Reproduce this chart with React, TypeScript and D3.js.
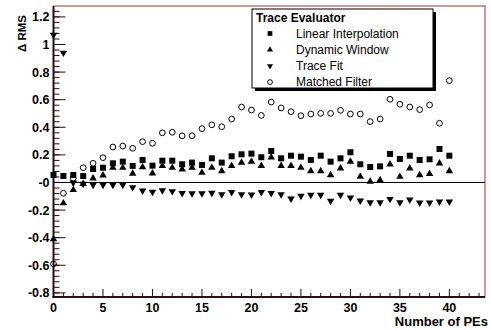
import React, { useRef, useEffect } from 'react'
import * as d3 from 'd3'

// number of photoelectrons (x)
const pes = [0, 1, 2, 3, 4, 5, 6, 7, 8, 9, 10, 11, 12, 13, 14, 15, 16, 17, 18, 19, 20,
  21, 22, 23, 24, 25, 26, 27, 28, 29, 30, 31, 32, 33, 34, 35, 36, 37, 38, 39, 40]

const linearInterp = [0.054, 0.047, 0.054, 0.047, 0.098, 0.107, 0.139, 0.151, 0.12, 0.163, 0.122,
  0.158, 0.158, 0.132, 0.144, 0.127, 0.175, 0.144, 0.19, 0.204, 0.209,
  0.183, 0.228, 0.175, 0.194, 0.187, 0.163, 0.194, 0.151, 0.175, 0.219,
  0.132, 0.112, 0.117, 0.207, 0.17, 0.194, 0.163, 0.168, 0.243, 0.194]

const dynamicWindow = [-0.41, -0.15, -0.054, -0.01, 0.03, 0.052, 0.107, 0.107, 0.064, 0.112, 0.067,
  0.12, 0.107, 0.096, 0.107, 0.071, 0.107, 0.083, 0.12, 0.144, 0.151,
  0.12, 0.183, 0.12, 0.12, 0.107, 0.083, 0.083, 0.054, 0.103, 0.151,
  0.042, 0.006, 0.018, 0.132, 0.042, 0.103, 0.054, 0.062, 0.139, 0.083]

const traceFit = [1.07, 0.94, -0.002, -0.01, -0.018, -0.018, -0.018, -0.018, -0.035, -0.06, -0.069,
  -0.057, -0.064, -0.078, -0.08, -0.08, -0.076, -0.086, -0.071, -0.086, -0.089,
  -0.071, -0.078, -0.086, -0.117, -0.098, -0.09, -0.09, -0.134, -0.09, -0.11,
  -0.132, -0.144, -0.144, -0.12, -0.144, -0.125, -0.146, -0.146, -0.139, -0.139]

const matchedFilter = [-0.59, -0.078, 0.03, 0.107, 0.139, 0.18, 0.257, 0.264, 0.248, 0.296, 0.284,
  0.36, 0.364, 0.338, 0.339, 0.39, 0.418, 0.404, 0.46, 0.547, 0.525,
  0.486, 0.583, 0.54, 0.513, 0.484, 0.496, 0.501, 0.501, 0.523, 0.496,
  0.496, 0.441, 0.46, 0.603, 0.567, 0.547, 0.528, 0.562, 0.429, 0.738]

const seriesNames = ['Linear Interpolation', 'Dynamic Window', 'Trace Fit', 'Matched Filter']
const yTickLabels = ['-0.8', '-0.6', '-0.4', '-0.2', '-0', '0.2', '0.4', '0.6', '0.8', '1', '1.2']
const xTickLabels = ['0', '5', '10', '15', '20', '25', '30', '35', '40']

const font = '"Liberation Sans", Arial, Helvetica, sans-serif'

export default function App() {
  const ref = useRef<SVGSVGElement>(null)

  useEffect(() => {
    const svg = d3.select(ref.current)
    svg.selectAll('*').remove()

    const x = d3.scaleLinear().domain([0, 43.6]).range([53.5, 485])
    const y = d3.scaleLinear().domain([-0.83, 1.279]).range([297, 6])
    const [x0, x1] = x.range()
    const [yb, yt] = y.range()

    // frame
    svg.append('rect')
      .attr('x', x0).attr('y', yt)
      .attr('width', x1 - x0).attr('height', yb - yt)
      .attr('fill', 'white').attr('stroke', '#a83232').attr('stroke-width', 1)

    const axisColor = '#2b0d0d'

    // y axis ticks
    const yMajor = yTickLabels.map(Number)
    const yMinor = d3.range(-40, 64).map((i) => i * 0.02).filter((v, i) => i % 2 === 0 && v <= 1.279)
    const gy = svg.append('g')
    yMinor.forEach((v) => {
      gy.append('line').attr('x1', x0).attr('x2', x0 + 6)
        .attr('y1', y(v)).attr('y2', y(v)).attr('stroke', axisColor)
    })
    yMajor.forEach((v, i) => {
      gy.append('line').attr('x1', x0).attr('x2', x0 + 12)
        .attr('y1', y(v)).attr('y2', y(v)).attr('stroke', axisColor)
      gy.append('text').attr('x', x0 - 4).attr('y', y(v) + 4.5)
        .attr('text-anchor', 'end').attr('font-family', font)
        .attr('font-weight', 'bold').attr('font-size', 12.5)
        .text(yTickLabels[i])
    })

    // x axis ticks
    const gx = svg.append('g')
    d3.range(0, 44).forEach((v) => {
      const major = v % 5 === 0
      gx.append('line').attr('x1', x(v)).attr('x2', x(v))
        .attr('y1', yb).attr('y2', yb - (major ? 8 : 4)).attr('stroke', axisColor)
    })
    xTickLabels.forEach((t) => {
      gx.append('text').attr('x', x(+t)).attr('y', yb + 15)
        .attr('text-anchor', 'middle').attr('font-family', font)
        .attr('font-weight', 'bold').attr('font-size', 12.5)
        .text(t)
    })

    svg.append('line').attr('x1', x0).attr('x2', x0).attr('y1', yt).attr('y2', yb + 1)
      .attr('stroke', axisColor).attr('stroke-width', 2)
    svg.append('line').attr('x1', x0 - 1).attr('x2', x1).attr('y1', yb).attr('y2', yb)
      .attr('stroke', axisColor).attr('stroke-width', 2)

    // zero line
    svg.append('line').attr('x1', x0).attr('x2', x1).attr('y1', y(0)).attr('y2', y(0))
      .attr('stroke', 'black').attr('stroke-width', 1)

    // axis titles
    svg.append('text').attr('x', x1 + 3).attr('y', 326)
      .attr('text-anchor', 'end').attr('font-family', font)
      .attr('font-weight', 'bold').attr('font-size', 13)
      .text('Number of PEs')
    svg.append('text')
      .attr('transform', 'translate(26,15) rotate(-90)')
      .attr('text-anchor', 'end').attr('font-family', font)
      .attr('font-weight', 'bold').attr('font-size', 11.5)
      .text('\u0394 RMS')

    // markers
    const square = d3.symbol().type(d3.symbolSquare).size(36)
    const tri = d3.symbol().type(d3.symbolTriangle).size(24)
    const circle = d3.symbol().type(d3.symbolCircle).size(26)

    const marks = [
      { values: linearInterp, path: square(), fill: 'black', rot: 0 },
      { values: dynamicWindow, path: tri(), fill: 'black', rot: 0 },
      { values: traceFit, path: tri(), fill: 'black', rot: 180 },
      { values: matchedFilter, path: circle(), fill: 'none', rot: 0 },
    ]

    marks.forEach((m) => {
      svg.append('g').selectAll('path')
        .data(m.values)
        .join('path')
        .attr('d', m.path)
        .attr('transform', (d, i) => `translate(${x(pes[i])},${y(d)}) rotate(${m.rot})`)
        .attr('fill', m.fill)
        .attr('stroke', 'black')
        .attr('stroke-width', m.fill === 'none' ? 1 : 0)
    })

    // legend
    const lg = svg.append('g')
    lg.append('rect').attr('x', 255).attr('y', 12).attr('width', 181).attr('height', 79).attr('fill', 'black')
    lg.append('rect').attr('x', 252).attr('y', 9).attr('width', 181).attr('height', 79)
      .attr('fill', 'white').attr('stroke', 'black').attr('stroke-width', 1)
    lg.append('text').attr('x', 256).attr('y', 21.5)
      .attr('font-family', font).attr('font-weight', 'bold').attr('font-size', 12)
      .text('Trace Evaluator')
    const legendSyms = [
      d3.symbol().type(d3.symbolSquare).size(22)(),
      d3.symbol().type(d3.symbolTriangle).size(16)(),
      d3.symbol().type(d3.symbolTriangle).size(16)(),
      d3.symbol().type(d3.symbolCircle).size(18)(),
    ]
    seriesNames.forEach((name, i) => {
      const by = 37.5 + i * 16.2
      lg.append('path').attr('d', legendSyms[i])
        .attr('transform', `translate(270,${by - 4}) rotate(${i === 2 ? 180 : 0})`)
        .attr('fill', i === 3 ? 'none' : 'black')
        .attr('stroke', 'black').attr('stroke-width', i === 3 ? 1 : 0)
      lg.append('text').attr('x', 296).attr('y', by)
        .attr('font-family', font).attr('font-size', 12)
        .text(name)
    })
  }, [])

  return (
    <svg
      ref={ref}
      width={491}
      height={330}
      style={{ position: 'absolute', left: 0, top: 0, background: 'white' }}
    ></svg>
  )
}
